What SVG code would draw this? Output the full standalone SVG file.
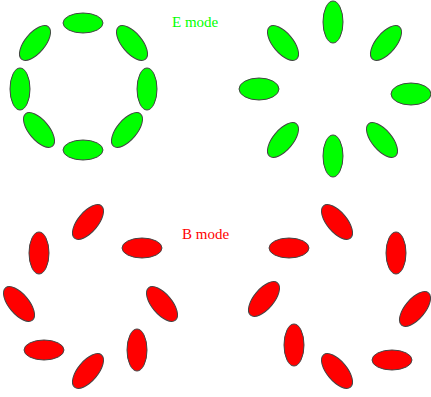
<svg xmlns="http://www.w3.org/2000/svg" width="431" height="397" viewBox="0 0 431 397">
<style>
.g{fill:#00ff00;stroke:#444;stroke-width:1}
.r{fill:#ff0000;stroke:#444;stroke-width:1}
.t{font-family:"Liberation Serif",serif;font-size:15px}
</style>
<rect width="431" height="397" fill="#fff"/>
<g id="e-tangential">
<ellipse class="g" cx="83" cy="23" rx="20" ry="10"/>
<ellipse class="g" cx="83" cy="150" rx="20" ry="10"/>
<ellipse class="g" cx="20" cy="89" rx="10" ry="21"/>
<ellipse class="g" cx="147" cy="89" rx="10" ry="21"/>
<ellipse class="g" cx="0" cy="0" rx="21" ry="10" transform="translate(35,43) rotate(-50)"/>
<ellipse class="g" cx="0" cy="0" rx="21" ry="10" transform="translate(132,43) rotate(50)"/>
<ellipse class="g" cx="0" cy="0" rx="21" ry="10" transform="translate(39,130) rotate(50)"/>
<ellipse class="g" cx="0" cy="0" rx="21" ry="10" transform="translate(127,130) rotate(-50)"/>
</g>
<g id="e-radial">
<ellipse class="g" cx="333" cy="22" rx="10" ry="21"/>
<ellipse class="g" cx="333" cy="156" rx="10" ry="21"/>
<ellipse class="g" cx="259" cy="89" rx="20" ry="11"/>
<ellipse class="g" cx="411" cy="94" rx="20" ry="11"/>
<ellipse class="g" cx="0" cy="0" rx="21" ry="10" transform="translate(283,43) rotate(50)"/>
<ellipse class="g" cx="0" cy="0" rx="21" ry="10" transform="translate(386,43) rotate(-50)"/>
<ellipse class="g" cx="0" cy="0" rx="21" ry="10" transform="translate(283,140) rotate(-50)"/>
<ellipse class="g" cx="0" cy="0" rx="21" ry="10" transform="translate(382,140) rotate(50)"/>
</g>
<g id="b-left">
<ellipse class="r" cx="0" cy="0" rx="21" ry="10" transform="translate(88,222) rotate(-50)"/>
<ellipse class="r" cx="142" cy="248" rx="20" ry="10"/>
<ellipse class="r" cx="0" cy="0" rx="21" ry="10" transform="translate(162,304) rotate(50)"/>
<ellipse class="r" cx="137" cy="350" rx="10" ry="21"/>
<ellipse class="r" cx="0" cy="0" rx="21" ry="10" transform="translate(88,371) rotate(-50)"/>
<ellipse class="r" cx="44" cy="350" rx="20" ry="10"/>
<ellipse class="r" cx="0" cy="0" rx="21" ry="10" transform="translate(19,304) rotate(50)"/>
<ellipse class="r" cx="39" cy="253" rx="10" ry="21"/>
</g>
<g id="b-right">
<ellipse class="r" cx="0" cy="0" rx="21" ry="10" transform="translate(337,222) rotate(50)"/>
<ellipse class="r" cx="396" cy="253" rx="10" ry="21"/>
<ellipse class="r" cx="0" cy="0" rx="21" ry="10" transform="translate(415,309) rotate(-50)"/>
<ellipse class="r" cx="392" cy="360" rx="20" ry="10"/>
<ellipse class="r" cx="0" cy="0" rx="21" ry="10" transform="translate(337,371) rotate(50)"/>
<ellipse class="r" cx="294" cy="345" rx="10" ry="21"/>
<ellipse class="r" cx="0" cy="0" rx="21" ry="10" transform="translate(264,299) rotate(-50)"/>
<ellipse class="r" cx="289" cy="248" rx="20" ry="10"/>
</g>
<g id="labels">
<text class="t" x="172" y="27" fill="#00ff00">E mode</text>
<text class="t" x="182" y="239" fill="#ff0000">B mode</text>
</g>
</svg>
